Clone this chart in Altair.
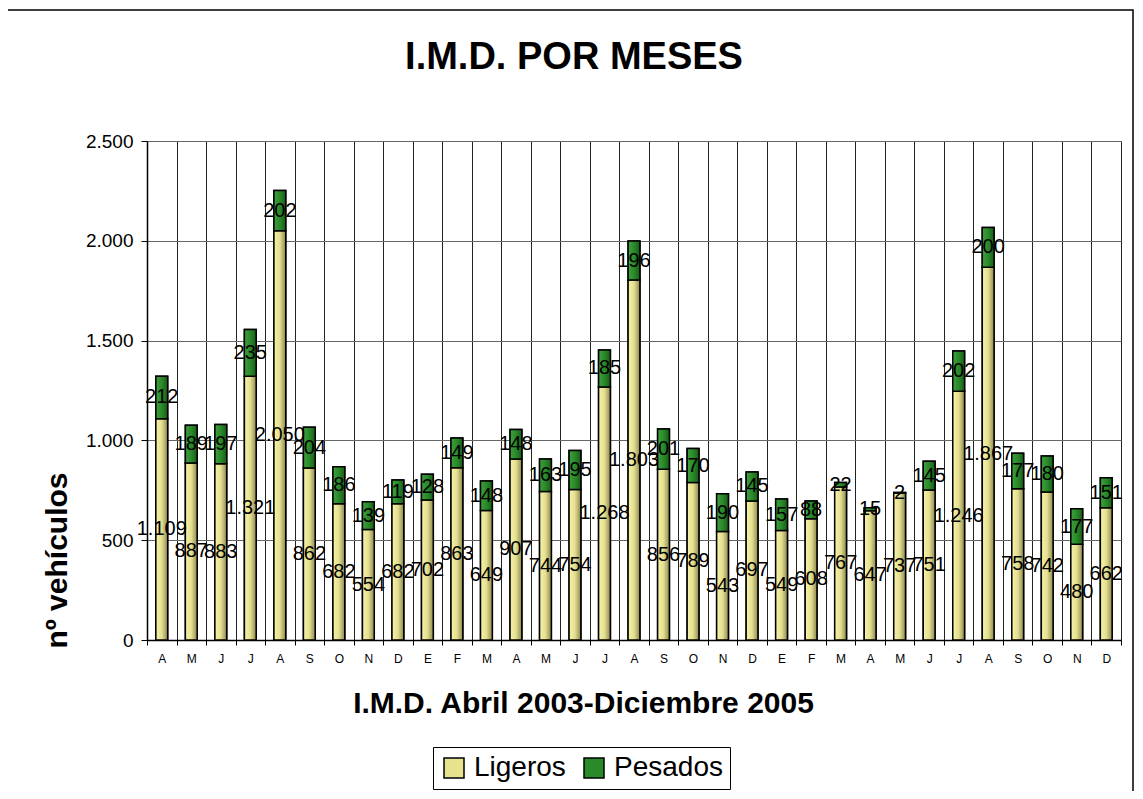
import json
import altair as alt
import pandas as pd

MONTHS = ['A', 'M', 'J', 'J', 'A', 'S', 'O', 'N', 'D',
          'E', 'F', 'M', 'A', 'M', 'J', 'J', 'A', 'S', 'O', 'N', 'D',
          'E', 'F', 'M', 'A', 'M', 'J', 'J', 'A', 'S', 'O', 'N', 'D']
LIGEROS = [1109, 887, 883, 1321, 2050, 862, 682, 554, 682,
           702, 863, 649, 907, 744, 754, 1268, 1803, 856, 789, 543, 697,
           549, 608, 767, 647, 737, 751, 1246, 1867, 758, 742, 480, 662]
PESADOS = [212, 189, 197, 235, 202, 204, 186, 139, 119,
           128, 149, 148, 148, 163, 195, 185, 196, 201, 170, 190, 145,
           157, 88, 22, 15, 2, 145, 202, 200, 177, 180, 177, 151]
SERIES = ['Ligeros', 'Pesados']
Y_TICKS = [0, 500, 1000, 1500, 2000, 2500]

FONT = 'Liberation Sans'
W, H = 974, 499

df = pd.DataFrame({'idx': list(range(len(MONTHS))), 'Ligeros': LIGEROS, 'Pesados': PESADOS})

month_expr = json.dumps(MONTHS) + '[datum.value]'
fmt = lambda f: "replace(format(" + f + ", ','), ',', '.')"

x_axis = alt.Axis(
    title='I.M.D. Abril 2003-Diciembre 2005', labelExpr=month_expr, labelAngle=0,
    labelFont=FONT, labelFontSize=12, labelColor='black', labelPadding=8,
    tickBand='extent', grid=True, gridColor='#222222', gridWidth=1,
    ticks=True, tickSize=5, tickColor='black', domainColor='black', domainWidth=1.5,
    titleFont=FONT, titleFontSize=30, titleFontWeight='bold', titleColor='black',
    titleX=436, titleY=72, titleAlign='center', titleBaseline='alphabetic',
)
y_axis = alt.Axis(
    title='nº vehículos', values=Y_TICKS, labelExpr=fmt('datum.value'),
    labelFont=FONT, labelFontSize=19, labelColor='black', labelPadding=8,
    grid=True, gridColor='#666666', gridWidth=1,
    tickSize=6, tickColor='black', domainColor='black', domainWidth=1.5,
    titleFont=FONT, titleFontSize=30, titleFontWeight='bold', titleColor='black',
    titleAngle=270, titleX=-81, titleY=419, titleAlign='center', titleBaseline='alphabetic',
)
x_enc = alt.X('idx:O', axis=x_axis, scale=alt.Scale(paddingInner=0, paddingOuter=0))
y_scale = alt.Scale(domain=[0, 2500])

yellow = alt.Gradient(gradient='linear', x1=0, y1=0, x2=1, y2=0, stops=[
    alt.GradientStop(color='#f6f3a8', offset=0),
    alt.GradientStop(color='#e4df90', offset=0.5),
    alt.GradientStop(color='#8e894f', offset=1)])
green = alt.Gradient(gradient='linear', x1=0, y1=0, x2=1, y2=0, stops=[
    alt.GradientStop(color='#40a040', offset=0),
    alt.GradientStop(color='#2a8a2a', offset=0.5),
    alt.GradientStop(color='#175e17', offset=1)])

base = alt.Chart(df)
bw = alt.RelativeBandSize(0.4)

legend_layer = base.transform_fold(SERIES, as_=['serie', 'valor']).mark_bar(
    width=bw, stroke='black', strokeWidth=1.5
).encode(
    x=x_enc,
    y=alt.Y('valor:Q', stack='zero', scale=y_scale, axis=y_axis),
    fill=alt.Fill('serie:N', scale=alt.Scale(domain=SERIES, range=['#e6e28e', '#2a8a2a']),
                  legend=alt.Legend(title=None, orient='none', legendX=286, legendY=606,
                                    direction='horizontal', symbolType='square', symbolSize=400,
                                    symbolStrokeColor='black', symbolStrokeWidth=1.5,
                                    labelFont=FONT, labelFontSize=28, labelColor='black',
                                    labelOffset=6, columnPadding=14, padding=7,
                                    strokeColor='black', fillColor='white')),
    order=alt.Order('serie:N'),
)

lig_bar = base.transform_calculate(zero='0').mark_bar(
    width=bw, fill=yellow, stroke='black', strokeWidth=1.5
).encode(x=x_enc, y=alt.Y('Ligeros:Q', scale=y_scale, axis=y_axis), y2=alt.Y2('zero:Q'))

pes_bar = base.transform_calculate(tot='datum.Ligeros + datum.Pesados').mark_bar(
    width=bw, fill=green, stroke='black', strokeWidth=1.5
).encode(x=x_enc, y=alt.Y('tot:Q', scale=y_scale, axis=y_axis), y2=alt.Y2('Ligeros:Q'))

lig_txt = base.transform_calculate(
    mid='datum.Ligeros / 2', lab=fmt('datum.Ligeros')
).mark_text(font=FONT, fontSize=20, color='black', baseline='middle', align='center').encode(
    x=x_enc, y=alt.Y('mid:Q', scale=y_scale, axis=y_axis), text='lab:N')

pes_txt = base.transform_calculate(
    mid='datum.Ligeros + datum.Pesados / 2', lab=fmt('datum.Pesados')
).mark_text(font=FONT, fontSize=20, color='black', baseline='middle', align='center').encode(
    x=x_enc, y=alt.Y('mid:Q', scale=y_scale, axis=y_axis), text='lab:N')

frame = alt.Chart(alt.Data(values=[{'f': 1}])).mark_rect(
    fill=None, stroke='black', strokeWidth=1.5
).encode(x=alt.value(-140), x2=alt.value(986), y=alt.value(-131), y2=alt.value(700))

chart = alt.layer(frame, legend_layer, lig_bar, pes_bar, lig_txt, pes_txt).properties(
    width=W, height=H,
    autosize=alt.AutoSizeParams(type='none'),
    padding={'left': 139, 'top': 133, 'right': 14, 'bottom': 151},
    title=alt.Title('I.M.D. POR MESES', font=FONT, fontSize=38, fontWeight='bold',
                    color='black', anchor='middle', dx=-60, offset=0, dy=98, baseline='alphabetic'),
).configure_view(stroke='#888888', strokeWidth=1.5).configure(background='white')

chart.save('out.html', embed_options={'renderer': 'svg', 'actions': False})
